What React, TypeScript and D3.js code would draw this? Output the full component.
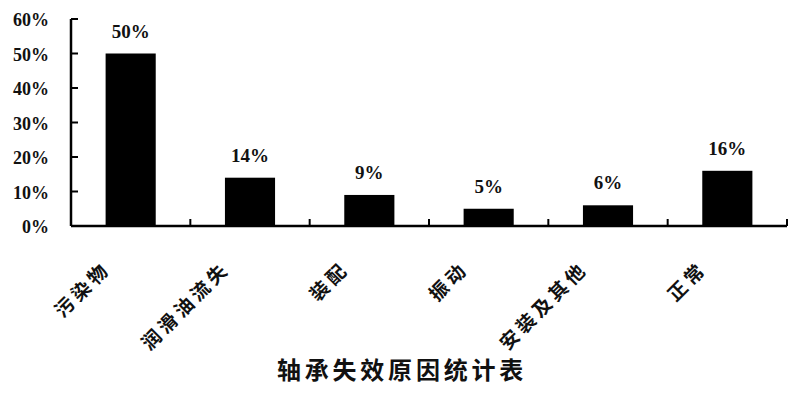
import React, { useEffect, useRef } from "react";
import * as d3 from "d3";

const categories = ["污染物", "润滑油流失", "装配", "振动", "安装及其他", "正常"];
const shares = [50, 14, 9, 5, 6, 16];
const yTicks = [0, 10, 20, 30, 40, 50, 60];
const title = "轴承失效原因统计表";

const W = 800;
const H = 394;
const margin = { left: 71, right: 13, top: 19, bottom: 168 };

export default function App() {
  const ref = useRef<SVGSVGElement>(null);

  useEffect(() => {
    const svg = d3.select(ref.current);
    svg.selectAll("*").remove();

    const x = d3
      .scaleBand<string>()
      .domain(categories)
      .range([margin.left, W - margin.right])
      .paddingInner(0.58)
      .paddingOuter(0.29);
    const y = d3
      .scaleLinear()
      .domain([0, 60])
      .range([H - margin.bottom, margin.top]);

    const g = svg.append("g");
    const serif = "'Liberation Serif', 'DejaVu Serif', serif";
    const cjk = "'Noto Sans CJK SC', sans-serif";

    // bars
    g.selectAll("rect.bar")
      .data(categories)
      .join("rect")
      .attr("class", "bar")
      .attr("x", (d) => x(d)!)
      .attr("width", x.bandwidth())
      .attr("y", (_d, i) => y(shares[i]))
      .attr("height", (_d, i) => y(0) - y(shares[i]))
      .attr("fill", "#000");

    // value labels above bars
    g.selectAll("text.val")
      .data(categories)
      .join("text")
      .attr("class", "val")
      .attr("x", (d) => x(d)! + x.bandwidth() / 2)
      .attr("y", (_d, i) => y(shares[i]) - 16)
      .attr("text-anchor", "middle")
      .attr("font-family", serif)
      .attr("font-weight", "bold")
      .attr("font-size", 19)
      .attr("fill", "#111")
      .text((_d, i) => `${shares[i]}%`);

    // y axis
    const x0 = margin.left;
    g.append("line")
      .attr("x1", x0)
      .attr("x2", x0)
      .attr("y1", y(60))
      .attr("y2", y(0))
      .attr("stroke", "#000")
      .attr("stroke-width", 2.5);
    g.selectAll("line.ytick")
      .data(yTicks)
      .join("line")
      .attr("class", "ytick")
      .attr("x1", x0)
      .attr("x2", x0 + 7)
      .attr("y1", (d) => y(d))
      .attr("y2", (d) => y(d))
      .attr("stroke", "#000")
      .attr("stroke-width", 2);
    g.selectAll("text.ylab")
      .data(yTicks)
      .join("text")
      .attr("class", "ylab")
      .attr("x", 49)
      .attr("y", (d) => y(d) + 7)
      .attr("text-anchor", "end")
      .attr("font-family", serif)
      .attr("font-weight", "bold")
      .attr("font-size", 18)
      .attr("fill", "#111")
      .text((d) => `${d}%`);

    // x axis with category separators
    const step = x.step();
    g.append("line")
      .attr("x1", x0)
      .attr("x2", W - margin.right)
      .attr("y1", y(0))
      .attr("y2", y(0))
      .attr("stroke", "#000")
      .attr("stroke-width", 2.5);
    g.selectAll("line.xtick")
      .data(categories)
      .join("line")
      .attr("class", "xtick")
      .attr("x1", (d) => x(d)! - step * 0.29 + step)
      .attr("x2", (d) => x(d)! - step * 0.29 + step)
      .attr("y1", y(0))
      .attr("y2", y(0) - 7)
      .attr("stroke", "#000")
      .attr("stroke-width", 2);

    // rotated category labels
    g.selectAll("text.xlab")
      .data(categories)
      .join("text")
      .attr("class", "xlab")
      .attr("transform", (d) => {
        const cx = x(d)! + x.bandwidth() / 2 - 19;
        return `translate(${cx},${y(0) + 44}) rotate(-45)`;
      })
      .attr("text-anchor", "end")
      .attr("font-family", cjk)
      .attr("font-weight", 700)
      .attr("font-size", 19)
      .attr("letter-spacing", 4)
      .attr("fill", "#111")
      .text((d) => d);

    // chart title
    g.append("text")
      .attr("x", 402)
      .attr("y", 379)
      .attr("text-anchor", "middle")
      .attr("font-family", cjk)
      .attr("font-weight", 700)
      .attr("font-size", 24)
      .attr("letter-spacing", 3.8)
      .attr("fill", "#111")
      .text(title);
  }, []);

  return (
    <svg
      ref={ref}
      width={W}
      height={H}
      style={{ position: "absolute", left: 0, top: 0, background: "#fff" }}
    />
  );
}
